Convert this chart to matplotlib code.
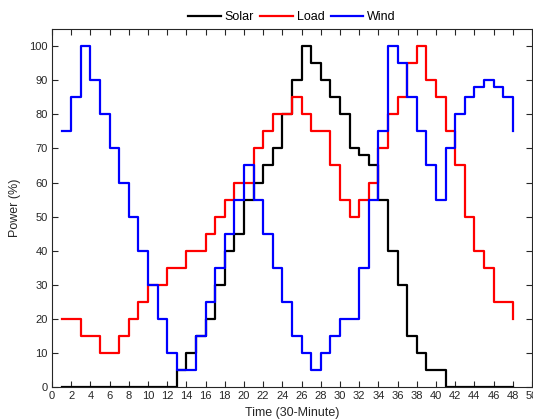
import matplotlib
matplotlib.use("Agg")
import matplotlib.pyplot as plt
import numpy as np

time = list(range(1, 49))
solar = [0]*12 + [5, 10, 15, 20, 30, 40, 45, 55, 60, 65, 70, 80, 90, 100, 95, 90, 85, 80,
                  70, 68, 65, 55, 40, 30, 15, 10, 5, 5] + [0]*8
load = [20, 20, 15, 15, 10, 10, 15, 20, 25, 30, 30, 35, 35, 40, 40, 45, 50, 55, 60, 60,
        70, 75, 80, 80, 85, 80, 75, 75, 65, 55, 50, 55, 60, 70, 80, 85, 95, 100, 90, 85,
        75, 65, 50, 40, 35, 25, 25, 20]
wind = [75, 85, 100, 90, 80, 70, 60, 50, 40, 30, 20, 10, 5, 5, 15, 25, 35, 45, 55, 65,
        55, 45, 35, 25, 15, 10, 5, 10, 15, 20, 20, 35, 55, 75, 100, 95, 85, 75, 65, 55,
        70, 80, 85, 88, 90, 88, 85, 75]

plt.rcParams['font.family'] = ['Liberation Sans', 'DejaVu Sans']
fig = plt.figure(figsize=(5.33, 4.2), dpi=100)
ax = fig.add_axes([0.0976, 0.078, 0.9004, 0.853])

ax.step(time, solar, where='post', color='black', lw=1.6, label='Solar')
ax.step(time, load, where='post', color='red', lw=1.6, label='Load')
ax.step(time, wind, where='post', color='blue', lw=1.6, label='Wind')

ax.set_xlim(0, 50)
ax.set_ylim(0, 105)
ax.set_xticks(np.arange(0, 51, 2))
ax.set_yticks(np.arange(0, 101, 10))
gray = '#262626'
ax.tick_params(direction='in', top=True, right=True, length=4, width=0.8,
               labelsize=8, colors=gray, pad=3)
for s in ax.spines.values():
    s.set_color(gray)
    s.set_linewidth(0.8)
ax.set_xlabel('Time (30-Minute)', fontsize=9, color=gray, labelpad=4)
ax.set_ylabel('Power (%)', fontsize=9, color=gray, labelpad=6)

ax.legend(loc='lower center', bbox_to_anchor=(0.5, 1.005), ncol=3, frameon=False,
          fontsize=9, handlelength=2.6, columnspacing=0.5, handletextpad=0.3,
          borderaxespad=0.1, borderpad=0.2)

fig.savefig('out.png', dpi=100)
